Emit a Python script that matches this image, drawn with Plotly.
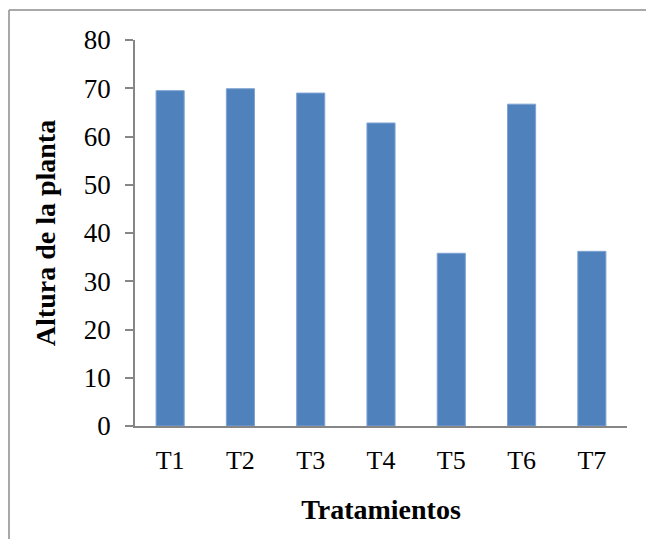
import plotly.graph_objects as go

# Plant height by treatment
tratamientos = ["T1", "T2", "T3", "T4", "T5", "T6", "T7"]
altura = [69.5, 69.9, 69.0, 62.8, 35.8, 66.7, 36.2]
y_ticks = [0, 10, 20, 30, 40, 50, 60, 70, 80]

FONT = "Liberation Serif, Times New Roman, serif"
AXIS_GRAY = "#868686"

fig = go.Figure(
    go.Bar(
        x=tratamientos,
        y=altura,
        marker=dict(color="#4F81BD", line=dict(color="#7FA3D3", width=1)),
        width=0.4,
    )
)

fig.update_layout(
    width=646,
    height=539,
    margin=dict(l=135, r=19, t=40, b=113),
    paper_bgcolor="white",
    plot_bgcolor="white",
    font=dict(family=FONT, size=26, color="black"),
    showlegend=False,
    xaxis=dict(
        showline=True,
        linecolor=AXIS_GRAY,
        linewidth=1.5,
        ticks="",
        showgrid=False,
        tickfont=dict(size=26),
        ticklabelstandoff=10,
        title=dict(text="<b>Tratamientos</b>", font=dict(size=28), standoff=25),
    ),
    yaxis=dict(
        range=[0, 80],
        tickvals=y_ticks,
        showline=True,
        linecolor=AXIS_GRAY,
        linewidth=1.5,
        ticks="outside",
        ticklen=8,
        tickcolor=AXIS_GRAY,
        tickwidth=1.5,
        showgrid=False,
        zeroline=False,
        tickfont=dict(size=27),
        ticklabelstandoff=9,
        title=dict(text="<b>Altura de la planta</b>", font=dict(size=28), standoff=20),
    ),
    shapes=[
        # chart frame (top and left edges)
        dict(type="line", xref="paper", yref="paper",
             x0=(9 - 135) / 492, x1=1.1, y0=(426 - 10) / 386, y1=(426 - 10) / 386,
             line=dict(color="#8c8c8c", width=1.5)),
        dict(type="line", xref="paper", yref="paper",
             x0=(9 - 135) / 492, x1=(9 - 135) / 492, y0=(426 - 10) / 386, y1=-0.4,
             line=dict(color="#8c8c8c", width=1.5)),
    ],
)

fig.write_html("out.html")
